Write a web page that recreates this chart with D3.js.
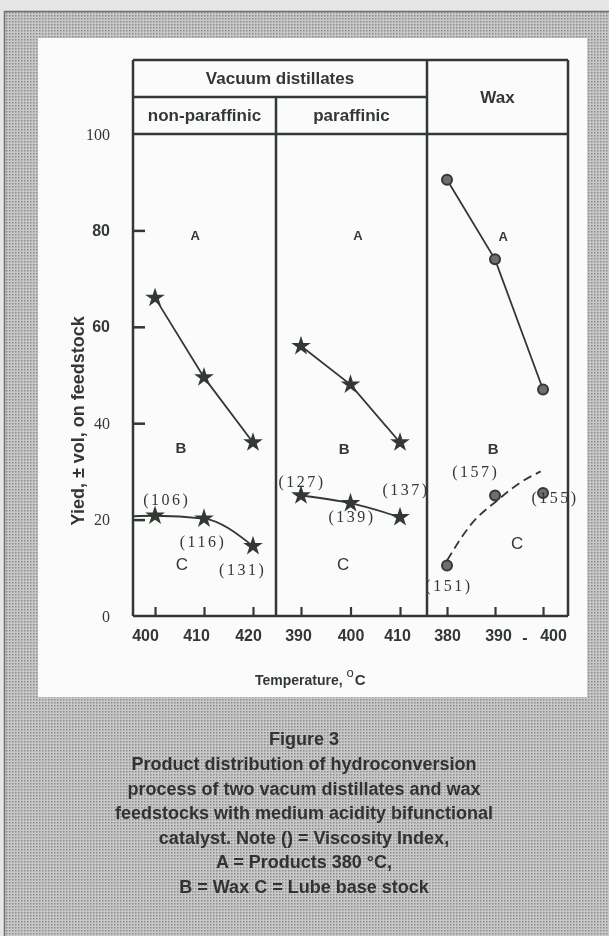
<!DOCTYPE html>
<html>
<head>
<meta charset="utf-8">
<style>
  body { margin: 0; background: #fff; }
  svg { display: block; }
</style>
</head>
<body>
<svg width="609" height="936"></svg>
<script src="https://d3js.org/d3.v7.min.js"></script>
<script>
// values
var yTicks = [0, 20, 40, 60, 80, 100];

var nonParTemps = [400, 410, 420];
var nonParA = [66, 49.5, 36];
var nonParC = [20.8, 20.2, 14.5];
var nonParCAtAxis = 20.7;
var nonParVI = ["(106)", "(116)", "(131)"];

var parTemps = [390, 400, 410];
var parA = [56, 48, 36];
var parC = [25, 23.4, 20.5];
var parVI = ["(127)", "(139)", "(137)"];

var waxTemps = [380, 390, 400];
var waxA = [90.5, 74, 47];
var waxC = [10.5, 25, 25.5];
var waxVI = ["(151)", "(157)", "(155)"];
var waxFitTemps = [380, 385, 390.5, 395, 399.5];
var waxFitC = [11.5, 19, 24, 27.5, 30];

var headerTop = "Vacuum distillates";
var headerSub = ["non-paraffinic", "paraffinic", "Wax"];
var yTitle = "Yied, \u00b1 vol, on feedstock";
var captionTitle = "Figure 3";
var captionLines = [
  "Product distribution of hydroconversion",
  "process of two vacum distillates and wax",
  "feedstocks with medium acidity bifunctional",
  "catalyst. Note () = Viscosity Index,",
  "A = Products 380 \u00b0C,",
  "B = Wax C = Lube base stock"
];

var W = 609, H = 936;
var ink = "#333833";
var sans = "'Liberation Sans', Arial, sans-serif";
var serif = "'Liberation Serif', 'DejaVu Serif', serif";

var svg = d3.select("svg");
var defs = svg.append("defs");

var pat = defs.append("pattern").attr("id", "dots")
    .attr("width", 3).attr("height", 3).attr("patternUnits", "userSpaceOnUse");
pat.append("rect").attr("width", 3).attr("height", 3).attr("fill", "#c8c8c8");
pat.append("rect").attr("width", 1.5).attr("height", 1.5).attr("fill", "#8c8c8c");
defs.append("filter").attr("id", "scan")
    .append("feGaussianBlur").attr("stdDeviation", 0.35);

// page background
svg.append("rect").attr("width", W).attr("height", H).attr("fill", "url(#dots)");
svg.append("rect").attr("width", W).attr("height", 11).attr("fill", "#e6e6e6");
svg.append("rect").attr("width", 4).attr("height", H).attr("fill", "#e6e6e6");
svg.append("path").attr("d", "M4.5," + H + "V11.5H" + W)
    .attr("fill", "none").attr("stroke", "#707070").attr("stroke-width", 1.5);
svg.append("rect").attr("x", 38).attr("y", 38).attr("width", 549).attr("height", 659)
    .attr("fill", "#fbfbfb");

var g = svg.append("g").attr("filter", "url(#scan)");

var frameL = 133, frameR = 568, frameT = 60, frameMid = 97, div1 = 276, div2 = 427;
var y = d3.scaleLinear().domain([0, 100]).range([616, 134]);
var frameB = y(0);

// frame
function hline(x0, x1, yy) {
  g.append("line").attr("x1", x0).attr("x2", x1).attr("y1", yy).attr("y2", yy)
    .attr("stroke", ink).attr("stroke-width", 2.5);
}
function vline(xx, y0, y1) {
  g.append("line").attr("x1", xx).attr("x2", xx).attr("y1", y0).attr("y2", y1)
    .attr("stroke", ink).attr("stroke-width", 2.5);
}
hline(frameL, frameR, frameT);
hline(frameL, div2, frameMid);
hline(frameL, frameR, y(100));
hline(frameL, frameR, frameB);
vline(frameL, frameT, frameB);
vline(frameR, frameT, frameB);
vline(div1, frameMid, frameB);
vline(div2, frameT, frameB);

function label(x, yy, txt, size, font, weight) {
  return g.append("text").attr("x", x).attr("y", yy)
    .attr("text-anchor", "middle").attr("dominant-baseline", "central")
    .attr("font-family", font || sans).attr("font-weight", weight || "bold")
    .attr("font-size", size).attr("fill", ink).text(txt);
}

label((frameL + div2) / 2, (frameT + frameMid) / 2, headerTop, 17);
label((frameL + div1) / 2, (frameMid + y(100)) / 2, headerSub[0], 17);
label((div1 + div2) / 2, (frameMid + y(100)) / 2, headerSub[1], 17);
label((div2 + frameR) / 2, (frameT + y(100)) / 2, headerSub[2], 17);

// y axis
var yAxis = d3.axisLeft(y).tickValues(yTicks).tickSize(-12).tickPadding(23)
    .tickFormat(d3.format("d"));
var ya = g.append("g").attr("transform", "translate(" + frameL + ",0)").call(yAxis);
ya.select(".domain").remove();
ya.selectAll(".tick line").attr("stroke", ink).attr("stroke-width", 2.5)
    .filter(function(d) { return d === 0 || d === 100; }).remove();
ya.selectAll(".tick text")
    .attr("fill", ink).attr("font-size", 16)
    .attr("font-family", function(d) { return (d === 60 || d === 80) ? sans : serif; })
    .attr("font-weight", function(d) { return (d === 60 || d === 80) ? "bold" : "normal"; });

g.append("text")
    .attr("transform", "translate(78," + y(40.5) + ") rotate(-90)")
    .attr("text-anchor", "middle").attr("dominant-baseline", "central")
    .attr("font-family", sans).attr("font-weight", "bold").attr("font-size", 18)
    .attr("fill", ink).text(yTitle);

// one panel
function panel(range, domain, temps, aVals, cVals, vi, marker, opt) {
  var x = d3.scaleLinear().domain(domain).range(range);
  var xAxis = d3.axisBottom(x).tickValues(temps).tickSize(-9).tickPadding(14)
      .tickSizeOuter(0).tickFormat(d3.format("d"));
  var xa = g.append("g").attr("transform", "translate(0," + frameB + ")").call(xAxis);
  xa.select(".domain").remove();
  xa.selectAll(".tick line").attr("stroke", ink).attr("stroke-width", 2.2);
  xa.selectAll(".tick text").attr("fill", ink).attr("font-family", sans)
      .attr("font-weight", "bold").attr("font-size", 16)
      .attr("dx", function(d, i) { return opt.tickDx[i]; });

  var line = d3.line().x(function(d) { return x(d[0]); }).y(function(d) { return y(d[1]); });

  var aPts = temps.map(function(t, i) { return [t, aVals[i]]; });
  g.append("path").datum(aPts).attr("d", line)
      .attr("fill", "none").attr("stroke", ink).attr("stroke-width", 1.8);

  var cPts = opt.cLine || temps.map(function(t, i) { return [t, cVals[i]]; });
  g.append("path").datum(cPts).attr("d", line.curve(opt.curve || d3.curveLinear))
      .attr("fill", "none").attr("stroke", ink).attr("stroke-width", 1.8)
      .attr("stroke-dasharray", opt.dash || null);

  var pts = aPts.concat(temps.map(function(t, i) { return [t, cVals[i]]; }));
  if (marker === "star") {
    g.selectAll(null).data(pts).enter().append("path")
        .attr("d", d3.symbol(d3.symbolStar, 120))
        .attr("transform", function(d) { return "translate(" + x(d[0]) + "," + y(d[1]) + ")"; })
        .attr("fill", ink);
  } else {
    g.selectAll(null).data(pts).enter().append("circle")
        .attr("cx", function(d) { return x(d[0]); })
        .attr("cy", function(d) { return y(d[1]); })
        .attr("r", 5).attr("fill", "#6b706b").attr("stroke", ink).attr("stroke-width", 2);
  }

  label(x(opt.a[0]), y(opt.a[1]), "A", 13);
  label(x(opt.b[0]), y(opt.b[1]), "B", 15);
  label(x(opt.c[0]), y(opt.c[1]), "C", 17, sans, "normal");
  vi.forEach(function(s, i) {
    label(x(opt.vi[i][0]), y(opt.vi[i][1]), s, 16, serif, "normal")
        .attr("letter-spacing", 2.5);
  });
  return x;
}

var nonParDomain = [395.5, 424.7];
panel([frameL, div1], nonParDomain, nonParTemps, nonParA, nonParC, nonParVI, "star", {
  tickDx: [-10, -8, -5],
  cLine: [[nonParDomain[0], nonParCAtAxis]].concat(nonParTemps.map(function(t, i) { return [t, nonParC[i]]; })),
  curve: d3.curveMonotoneX,
  a: [408.2, 78.9], b: [405.3, 35], c: [405.5, 10.6],
  vi: [[402.4, 24.2], [409.8, 15.5], [417.9, 9.7]]
});

panel([div1, div2], [384.95, 415.45], parTemps, parA, parC, parVI, "star", {
  tickDx: [-3, 0, -3],
  curve: d3.curveMonotoneX,
  a: [401.5, 78.9], b: [398.7, 34.8], c: [398.5, 10.6],
  vi: [[390.2, 28], [400.3, 20.7], [411.2, 26.3]]
});

var wx = panel([div2, frameR], [375.83, 405.2], waxTemps, waxA, waxC, waxVI, "circle", {
  tickDx: [0, 3, 10],
  cLine: waxFitTemps.map(function(t, i) { return [t, waxFitC[i]]; }),
  curve: d3.curveMonotoneX,
  dash: "9,5",
  a: [391.7, 78.7], b: [389.6, 34.8], c: [394.6, 15.1],
  vi: [[380.4, 6.4], [386, 30], [402.5, 24.6]]
});
label((wx(390) + wx(400)) / 2 + 6, frameB + 21, "-", 16);

// x title
var xt = g.append("text").attr("x", 255).attr("y", 685)
    .attr("font-family", sans).attr("font-weight", "bold").attr("font-size", 14)
    .attr("fill", ink);
xt.append("tspan").text("Temperature, ");
xt.append("tspan").attr("dy", -8).attr("font-size", 13).attr("font-weight", "normal").text("o");
xt.append("tspan").attr("dy", 8).attr("dx", 1).attr("font-size", 15).text("C");

// caption
var cap = svg.append("g").attr("filter", "url(#scan)");
cap.append("text").attr("x", 304).attr("y", 739)
    .attr("text-anchor", "middle").attr("dominant-baseline", "central")
    .attr("font-family", sans).attr("font-weight", "bold").attr("font-size", 18)
    .attr("fill", "#333").text(captionTitle);
cap.selectAll(null).data(captionLines).enter().append("text")
    .attr("x", 304).attr("y", function(d, i) { return 764 + i * 24.6; })
    .attr("text-anchor", "middle").attr("dominant-baseline", "central")
    .attr("font-family", sans).attr("font-weight", "bold").attr("font-size", 18)
    .attr("fill", "#333").text(function(d) { return d; });
</script>
</body>
</html>
